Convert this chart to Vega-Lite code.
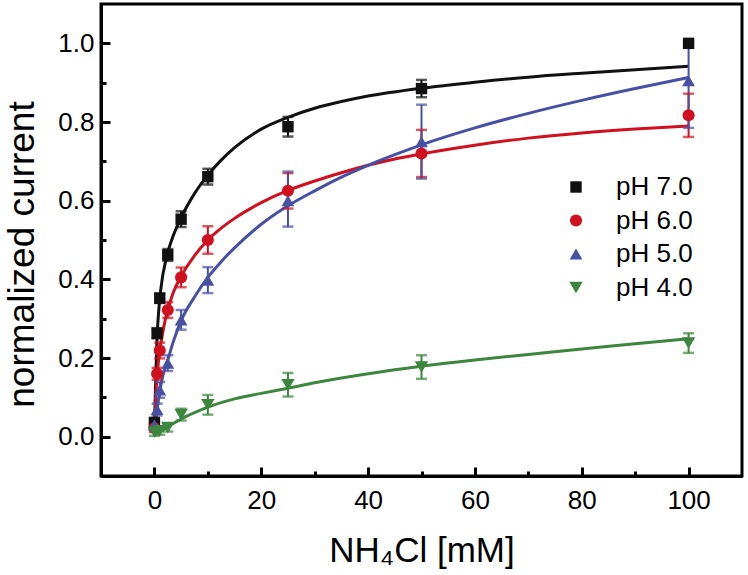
{
  "$schema": "https://vega.github.io/schema/vega-lite/v6.json",
  "width": 641,
  "height": 472,
  "autosize": {"type": "none"},
  "padding": {"left": 101, "top": 4, "right": 6, "bottom": 99},
  "background": "white",
  "config": {
    "view": {"stroke": "black", "strokeWidth": 3},
    "font": "Liberation Sans",
    "axis": {
      "domainColor": "black", "domainWidth": 3, "zindex": 1,
      "grid": false, "labelFont": "Liberation Sans", "labelFontSize": 26, "labelColor": "black",
      "titleFont": "Liberation Sans", "titleFontWeight": "normal", "titleColor": "black"
    },
    "legend": {
      "labelFont": "Liberation Sans", "labelFontSize": 26, "labelColor": "black",
      "labelOffset": 27, "rowPadding": 7.5, "symbolStrokeWidth": 0, "symbolOpacity": 1
    }
  },
  "datasets": {
    "pts": [
      {"ph": "pH 7.0", "x": 0, "y": 0.035, "lo": 0.022, "hi": 0.048},
      {"ph": "pH 7.0", "x": 0.5, "y": 0.263, "lo": 0.25, "hi": 0.276},
      {"ph": "pH 7.0", "x": 1, "y": 0.352, "lo": 0.34, "hi": 0.364},
      {"ph": "pH 7.0", "x": 2.5, "y": 0.462, "lo": 0.447, "hi": 0.477},
      {"ph": "pH 7.0", "x": 5, "y": 0.553, "lo": 0.533, "hi": 0.573},
      {"ph": "pH 7.0", "x": 10, "y": 0.661, "lo": 0.641, "hi": 0.681},
      {"ph": "pH 7.0", "x": 25, "y": 0.788, "lo": 0.763, "hi": 0.813},
      {"ph": "pH 7.0", "x": 50, "y": 0.885, "lo": 0.863, "hi": 0.907},
      {"ph": "pH 7.0", "x": 100, "y": 1.0, "lo": 0.995, "hi": 1.005},
      {"ph": "pH 6.0", "x": 0, "y": 0.022, "lo": 0.012, "hi": 0.032},
      {"ph": "pH 6.0", "x": 0.5, "y": 0.16, "lo": 0.145, "hi": 0.175},
      {"ph": "pH 6.0", "x": 1, "y": 0.219, "lo": 0.199, "hi": 0.239},
      {"ph": "pH 6.0", "x": 2.5, "y": 0.322, "lo": 0.302, "hi": 0.342},
      {"ph": "pH 6.0", "x": 5, "y": 0.405, "lo": 0.38, "hi": 0.43},
      {"ph": "pH 6.0", "x": 10, "y": 0.5, "lo": 0.465, "hi": 0.535},
      {"ph": "pH 6.0", "x": 25, "y": 0.625, "lo": 0.58, "hi": 0.67},
      {"ph": "pH 6.0", "x": 50, "y": 0.72, "lo": 0.66, "hi": 0.78},
      {"ph": "pH 6.0", "x": 100, "y": 0.817, "lo": 0.762, "hi": 0.872},
      {"ph": "pH 5.0", "x": 0, "y": 0.03, "lo": 0.02, "hi": 0.04},
      {"ph": "pH 5.0", "x": 0.5, "y": 0.069, "lo": 0.054, "hi": 0.084},
      {"ph": "pH 5.0", "x": 1, "y": 0.119, "lo": 0.099, "hi": 0.139},
      {"ph": "pH 5.0", "x": 2.5, "y": 0.187, "lo": 0.167, "hi": 0.207},
      {"ph": "pH 5.0", "x": 5, "y": 0.297, "lo": 0.272, "hi": 0.322},
      {"ph": "pH 5.0", "x": 10, "y": 0.398, "lo": 0.365, "hi": 0.431},
      {"ph": "pH 5.0", "x": 25, "y": 0.6, "lo": 0.534, "hi": 0.674},
      {"ph": "pH 5.0", "x": 50, "y": 0.75, "lo": 0.656, "hi": 0.844},
      {"ph": "pH 5.0", "x": 100, "y": 0.905, "lo": 0.785, "hi": 1.01},
      {"ph": "pH 4.0", "x": 0, "y": 0.012, "lo": 0.002, "hi": 0.022},
      {"ph": "pH 4.0", "x": 1, "y": 0.015, "lo": 0.005, "hi": 0.025},
      {"ph": "pH 4.0", "x": 2.5, "y": 0.023, "lo": 0.013, "hi": 0.033},
      {"ph": "pH 4.0", "x": 5, "y": 0.056, "lo": 0.041, "hi": 0.071},
      {"ph": "pH 4.0", "x": 10, "y": 0.081, "lo": 0.056, "hi": 0.106},
      {"ph": "pH 4.0", "x": 25, "y": 0.132, "lo": 0.102, "hi": 0.162},
      {"ph": "pH 4.0", "x": 50, "y": 0.177, "lo": 0.147, "hi": 0.207},
      {"ph": "pH 4.0", "x": 100, "y": 0.238, "lo": 0.213, "hi": 0.263}
    ],
    "fit": [
      {"ph": "pH 7.0", "x": 0, "y": 0.01}, {"ph": "pH 7.0", "x": 0.1, "y": 0.07}, {"ph": "pH 7.0", "x": 0.25, "y": 0.15},
      {"ph": "pH 7.0", "x": 0.5, "y": 0.255}, {"ph": "pH 7.0", "x": 0.75, "y": 0.31}, {"ph": "pH 7.0", "x": 1, "y": 0.35},
      {"ph": "pH 7.0", "x": 1.5, "y": 0.405}, {"ph": "pH 7.0", "x": 2, "y": 0.44}, {"ph": "pH 7.0", "x": 2.5, "y": 0.468},
      {"ph": "pH 7.0", "x": 3.5, "y": 0.51}, {"ph": "pH 7.0", "x": 5, "y": 0.557}, {"ph": "pH 7.0", "x": 7.5, "y": 0.618},
      {"ph": "pH 7.0", "x": 10, "y": 0.665}, {"ph": "pH 7.0", "x": 12.5, "y": 0.703}, {"ph": "pH 7.0", "x": 15, "y": 0.735},
      {"ph": "pH 7.0", "x": 20, "y": 0.782}, {"ph": "pH 7.0", "x": 25, "y": 0.812}, {"ph": "pH 7.0", "x": 30, "y": 0.835},
      {"ph": "pH 7.0", "x": 35, "y": 0.852}, {"ph": "pH 7.0", "x": 40, "y": 0.866}, {"ph": "pH 7.0", "x": 50, "y": 0.886},
      {"ph": "pH 7.0", "x": 60, "y": 0.901}, {"ph": "pH 7.0", "x": 70, "y": 0.914}, {"ph": "pH 7.0", "x": 80, "y": 0.924},
      {"ph": "pH 7.0", "x": 90, "y": 0.933}, {"ph": "pH 7.0", "x": 100, "y": 0.942},
      {"ph": "pH 6.0", "x": 0, "y": 0.01}, {"ph": "pH 6.0", "x": 0.1, "y": 0.05}, {"ph": "pH 6.0", "x": 0.25, "y": 0.1},
      {"ph": "pH 6.0", "x": 0.5, "y": 0.155}, {"ph": "pH 6.0", "x": 0.75, "y": 0.19}, {"ph": "pH 6.0", "x": 1, "y": 0.218},
      {"ph": "pH 6.0", "x": 1.5, "y": 0.26}, {"ph": "pH 6.0", "x": 2, "y": 0.295}, {"ph": "pH 6.0", "x": 2.5, "y": 0.322},
      {"ph": "pH 6.0", "x": 3.5, "y": 0.365}, {"ph": "pH 6.0", "x": 5, "y": 0.408}, {"ph": "pH 6.0", "x": 7.5, "y": 0.46},
      {"ph": "pH 6.0", "x": 10, "y": 0.5}, {"ph": "pH 6.0", "x": 12.5, "y": 0.53}, {"ph": "pH 6.0", "x": 15, "y": 0.555},
      {"ph": "pH 6.0", "x": 20, "y": 0.595}, {"ph": "pH 6.0", "x": 25, "y": 0.626}, {"ph": "pH 6.0", "x": 30, "y": 0.65},
      {"ph": "pH 6.0", "x": 35, "y": 0.671}, {"ph": "pH 6.0", "x": 40, "y": 0.69}, {"ph": "pH 6.0", "x": 45, "y": 0.706},
      {"ph": "pH 6.0", "x": 50, "y": 0.719}, {"ph": "pH 6.0", "x": 60, "y": 0.741}, {"ph": "pH 6.0", "x": 70, "y": 0.759},
      {"ph": "pH 6.0", "x": 80, "y": 0.772}, {"ph": "pH 6.0", "x": 90, "y": 0.782}, {"ph": "pH 6.0", "x": 100, "y": 0.79},
      {"ph": "pH 5.0", "x": 0, "y": 0.01}, {"ph": "pH 5.0", "x": 0.25, "y": 0.04}, {"ph": "pH 5.0", "x": 0.5, "y": 0.068},
      {"ph": "pH 5.0", "x": 1, "y": 0.115}, {"ph": "pH 5.0", "x": 1.5, "y": 0.15}, {"ph": "pH 5.0", "x": 2, "y": 0.175},
      {"ph": "pH 5.0", "x": 2.5, "y": 0.195}, {"ph": "pH 5.0", "x": 3.5, "y": 0.24}, {"ph": "pH 5.0", "x": 5, "y": 0.295},
      {"ph": "pH 5.0", "x": 7.5, "y": 0.355}, {"ph": "pH 5.0", "x": 10, "y": 0.405}, {"ph": "pH 5.0", "x": 12.5, "y": 0.445},
      {"ph": "pH 5.0", "x": 15, "y": 0.48}, {"ph": "pH 5.0", "x": 20, "y": 0.54}, {"ph": "pH 5.0", "x": 25, "y": 0.587},
      {"ph": "pH 5.0", "x": 30, "y": 0.625}, {"ph": "pH 5.0", "x": 35, "y": 0.66}, {"ph": "pH 5.0", "x": 40, "y": 0.69},
      {"ph": "pH 5.0", "x": 45, "y": 0.717}, {"ph": "pH 5.0", "x": 50, "y": 0.742}, {"ph": "pH 5.0", "x": 60, "y": 0.785},
      {"ph": "pH 5.0", "x": 70, "y": 0.822}, {"ph": "pH 5.0", "x": 80, "y": 0.855}, {"ph": "pH 5.0", "x": 90, "y": 0.885},
      {"ph": "pH 5.0", "x": 100, "y": 0.913},
      {"ph": "pH 4.0", "x": 0, "y": 0.005}, {"ph": "pH 4.0", "x": 1, "y": 0.012}, {"ph": "pH 4.0", "x": 2.5, "y": 0.025},
      {"ph": "pH 4.0", "x": 5, "y": 0.045}, {"ph": "pH 4.0", "x": 7.5, "y": 0.061}, {"ph": "pH 4.0", "x": 10, "y": 0.075},
      {"ph": "pH 4.0", "x": 15, "y": 0.096}, {"ph": "pH 4.0", "x": 20, "y": 0.11}, {"ph": "pH 4.0", "x": 25, "y": 0.123},
      {"ph": "pH 4.0", "x": 30, "y": 0.137}, {"ph": "pH 4.0", "x": 40, "y": 0.16}, {"ph": "pH 4.0", "x": 50, "y": 0.179},
      {"ph": "pH 4.0", "x": 60, "y": 0.195}, {"ph": "pH 4.0", "x": 70, "y": 0.209}, {"ph": "pH 4.0", "x": 80, "y": 0.223},
      {"ph": "pH 4.0", "x": 90, "y": 0.236}, {"ph": "pH 4.0", "x": 100, "y": 0.249}
    ]
  },
  "encoding": {
    "x": {
      "field": "x", "type": "quantitative",
      "scale": {"domain": [-10, 110], "nice": false, "zero": false},
      "axis": {
        "title": "NH₄Cl [mM]", "titleFontSize": 35, "titleBaseline": "alphabetic", "titleY": 85,
        "values": [0, 10, 20, 30, 40, 50, 60, 70, 80, 90, 100],
        "labelExpr": "datum.value % 20 == 0 ? datum.label : ''",
        "ticks": true,
        "tickSize": {"condition": {"test": "datum.value % 20 == 0", "value": -9}, "value": -5},
        "tickColor": "black", "tickWidth": 3,
        "labelPadding": 20
      }
    },
    "y": {
      "field": "y", "type": "quantitative",
      "scale": {"domain": [-0.1, 1.1], "nice": false, "zero": false},
      "axis": {
        "title": "normalized current", "titleFontSize": 37, "titleBaseline": "alphabetic",
        "titleX": -68, "titleY": 250, "titleAngle": -90,
        "values": [0, 0.1, 0.2, 0.3, 0.4, 0.5, 0.6, 0.7, 0.8, 0.9, 1.0],
        "format": ".1f",
        "labelExpr": "round(datum.value * 10) % 2 == 0 ? datum.label : ''",
        "ticks": true,
        "tickSize": {"condition": {"test": "round(datum.value * 10) % 2 == 0", "value": -9}, "value": -5},
        "tickColor": "black", "tickWidth": 3,
        "labelPadding": 16
      }
    },
    "color": {
      "field": "ph", "type": "nominal",
      "scale": {"domain": ["pH 7.0", "pH 6.0", "pH 5.0", "pH 4.0"], "range": ["#111111", "#d0101e", "#4650a5", "#3d863e"]},
      "legend": {"title": null, "orient": "none", "legendX": 462, "legendY": 170}
    }
  },
  "layer": [
    {
      "data": {"name": "fit"},
      "mark": {"type": "line", "strokeWidth": 3, "interpolate": "monotone", "clip": true}
    },
    {
      "data": {"name": "pts"},
      "mark": {"type": "rule", "strokeWidth": 2},
      "encoding": {"y": {"field": "lo", "type": "quantitative"}, "y2": {"field": "hi"}}
    },
    {
      "data": {"name": "pts"},
      "mark": {"type": "tick", "orient": "horizontal", "size": 11, "thickness": 2.5},
      "encoding": {"y": {"field": "lo", "type": "quantitative"}}
    },
    {
      "data": {"name": "pts"},
      "mark": {"type": "tick", "orient": "horizontal", "size": 11, "thickness": 2.5},
      "encoding": {"y": {"field": "hi", "type": "quantitative"}}
    },
    {
      "data": {"name": "pts"},
      "mark": {"type": "point", "filled": true, "opacity": 1},
      "encoding": {
        "shape": {
          "field": "ph", "type": "nominal",
          "scale": {"domain": ["pH 7.0", "pH 6.0", "pH 5.0", "pH 4.0"], "range": ["square", "circle", "triangle-up", "triangle-down"]},
          "legend": {"title": null, "orient": "none", "legendX": 462, "legendY": 170}
        },
        "size": {
          "field": "ph", "type": "nominal",
          "scale": {"domain": ["pH 7.0", "pH 6.0", "pH 5.0", "pH 4.0"], "range": [130, 180, 230, 230]},
          "legend": {"title": null, "orient": "none", "legendX": 462, "legendY": 170}
        }
      }
    }
  ]
}
